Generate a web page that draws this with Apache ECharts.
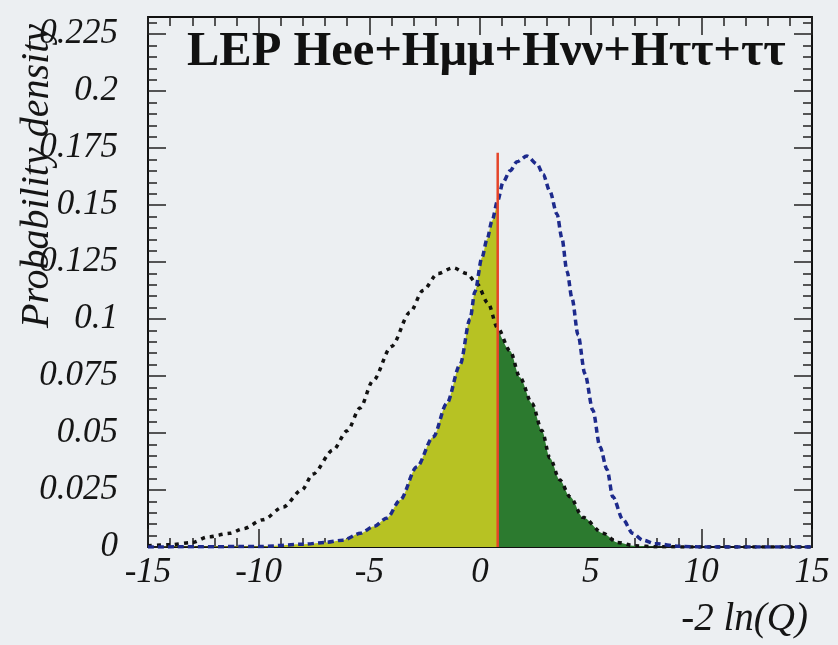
<!DOCTYPE html>
<html>
<head>
<meta charset="utf-8">
<script src="https://cdn.jsdelivr.net/npm/echarts@6/dist/echarts.min.js"></script>
<style>
html,body{margin:0;padding:0;background:#eceff2;}
#chart{width:838px;height:645px;}
</style>
</head>
<body>
<div id="chart"></div>
<script>
// ---- data ----
// signal+background expectation (black dotted), x = -2 ln(Q)
var sbX = [-15, -14, -13, -12.3, -11.3, -10.7, -9.8, -8.9, -8.05, -7.55, -6.64, -6.0, -5.42, -4.83, -4.0, -3.16, -2.58, -1.9, -1.22, -0.6, -0.14, 0.36, 0.8, 1.36, 1.8, 2.35, 2.8, 3.16, 3.6, 4.07, 4.65, 5.56, 6.2, 7.0, 8.0, 10, 15];
var sbY = [0.0005, 0.001, 0.002, 0.0044, 0.006, 0.008, 0.012, 0.0175, 0.025, 0.032, 0.0425, 0.051, 0.061, 0.073, 0.088, 0.103, 0.1125, 0.12, 0.1225, 0.12, 0.1155, 0.107, 0.096, 0.086, 0.0745, 0.063, 0.051, 0.039, 0.0295, 0.022, 0.013, 0.006, 0.002, 0.0005, 0.0001, 0, 0];
// background-only expectation (blue dashed)
var bX = [-15, -10, -8, -7, -6.2, -5.4, -4.8, -4.2, -3.61, -2.86, -2.11, -1.5, -0.9, -0.45, -0.23, 0.09, 0.32, 0.54, 0.8, 1.04, 1.36, 1.67, 2.12, 2.58, 2.85, 3.16, 3.48, 3.7, 3.93, 4.16, 4.43, 4.74, 5.1, 5.42, 5.74, 6.0, 6.46, 6.9, 7.36, 7.9, 9, 10, 15];
var bY = [0, 0.0002, 0.0012, 0.002, 0.003, 0.006, 0.009, 0.0127, 0.0206, 0.0351, 0.0483, 0.063, 0.080, 0.100, 0.112, 0.127, 0.135, 0.143, 0.152, 0.160, 0.165, 0.169, 0.1715, 0.168, 0.1635, 0.156, 0.146, 0.1355, 0.121, 0.109, 0.093, 0.076, 0.060, 0.044, 0.034, 0.022, 0.012, 0.006, 0.003, 0.0015, 0.0003, 0, 0];
// observed value
var obsX = 0.8;
var obsTop = 0.173;
// tick labels
var xTickLabels = [-15, -10, -5, 0, 5, 10, 15];
var yTickLabels = [0, 0.025, 0.05, 0.075, 0.1, 0.125, 0.15, 0.175, 0.2, 0.225];

var titleText = 'LEP Hee+H\u03bc\u03bc+H\u03bd\u03bd+H\u03c4\u03c4+\u03c4\u03c4';
var xTitle = '-2 ln(Q)';
var yTitle = 'Probability density';

// ---- build ----
function pairs(xs, ys) { return xs.map(function (x, i) { return [x, ys[i]]; }); }
var sbData = pairs(sbX, sbY);
var bData = pairs(bX, bY);
var yellowData = bData.filter(function (p) { return p[0] <= obsX; });
var greenData = sbData.filter(function (p) { return p[0] >= obsX; });

var xMinor = [], yMinor = [];
for (var i = -15; i <= 15; i++) xMinor.push(i);
for (var j = 0; j <= 46; j++) yMinor.push(+(j * 0.005).toFixed(3));

var X_MIN = -15, X_MAX = 15, Y_MIN = 0, Y_MAX = 0.2325;
var font = '"Liberation Serif", "Times New Roman", serif';
var labelStyle = { fontFamily: font, fontStyle: 'italic', fontSize: 35, color: '#151515' };
var lineBlack = { show: true, onZero: false, lineStyle: { color: '#111', width: 2 } };

function xAx(pos, ticks, len, showLabel, showLine) {
  return {
    type: 'value', position: pos, min: X_MIN, max: X_MAX, interval: 5,
    axisLine: showLine ? lineBlack : { show: false, onZero: false },
    axisTick: { show: true, inside: true, length: len, customValues: ticks, lineStyle: { color: '#222', width: 1.5 } },
    axisLabel: showLabel ? Object.assign({ show: true, margin: 8, customValues: xTickLabels, formatter: function (v) { return String(v); } }, labelStyle) : { show: false },
    splitLine: { show: false }
  };
}
function yAx(pos, ticks, len, showLabel, showLine) {
  return {
    type: 'value', position: pos, min: Y_MIN, max: Y_MAX,
    axisLine: showLine ? lineBlack : { show: false, onZero: false },
    axisTick: { show: true, inside: true, length: len, customValues: ticks, lineStyle: { color: '#222', width: 1.5 } },
    axisLabel: showLabel ? Object.assign({ show: true, margin: 30, customValues: yTickLabels, formatter: function (v) { return String(v); } }, labelStyle) : { show: false },
    splitLine: { show: false }
  };
}

var chart = echarts.init(document.getElementById('chart'), null, { renderer: 'canvas' });
chart.setOption({
  backgroundColor: '#eceff2',
  animation: false,
  grid: { left: 148, right: 26, top: 17, bottom: 98 },
  xAxis: [
    xAx('bottom', xTickLabels, 18, true, true),
    xAx('bottom', xMinor, 9, false, false),
    xAx('top', xTickLabels, 18, false, true),
    xAx('top', xMinor, 9, false, false)
  ],
  yAxis: [
    yAx('left', yTickLabels, 18, true, true),
    yAx('left', yMinor, 9, false, false),
    yAx('right', yTickLabels, 18, false, true),
    yAx('right', yMinor, 9, false, false)
  ],
  graphic: [
    { type: 'text', x: 187, y: 52, style: { text: titleText, font: 'bold 48.5px ' + font, fill: '#111', textAlign: 'left', textVerticalAlign: 'middle' } },
    { type: 'text', x: 808, y: 620, style: { text: xTitle, font: 'italic 39px ' + font, fill: '#151515', textAlign: 'right', textVerticalAlign: 'middle' } },
    { type: 'text', x: 37, y: 176, rotation: Math.PI / 2, style: { text: yTitle, font: 'italic 40px ' + font, fill: '#151515', textAlign: 'center', textVerticalAlign: 'middle' } }
  ],
  series: [
    { type: 'line', name: '1-CLb', data: yellowData, showSymbol: false, smooth: 0.3, smoothMonotone: 'x',
      lineStyle: { width: 0 }, areaStyle: { color: '#b7c223', opacity: 1 } },
    { type: 'line', name: 'CLs+b', data: greenData, showSymbol: false, smooth: 0.3, smoothMonotone: 'x',
      lineStyle: { width: 0 }, areaStyle: { color: '#2c7a2f', opacity: 1 } },
    { type: 'line', name: 's+b', data: sbData, showSymbol: false, smooth: 0.3, smoothMonotone: 'x',
      lineStyle: { color: '#111', width: 3.5, type: [4, 5] } },
    { type: 'line', name: 'b', data: bData, showSymbol: false, smooth: 0.3, smoothMonotone: 'x',
      lineStyle: { color: '#1d2a8c', width: 3.5, type: [6, 4] } },
    { type: 'line', name: 'observed', data: [[obsX, 0], [obsX, obsTop]], showSymbol: false,
      lineStyle: { color: '#e5452a', width: 2.5 } }
  ]
});
</script>
</body>
</html>
